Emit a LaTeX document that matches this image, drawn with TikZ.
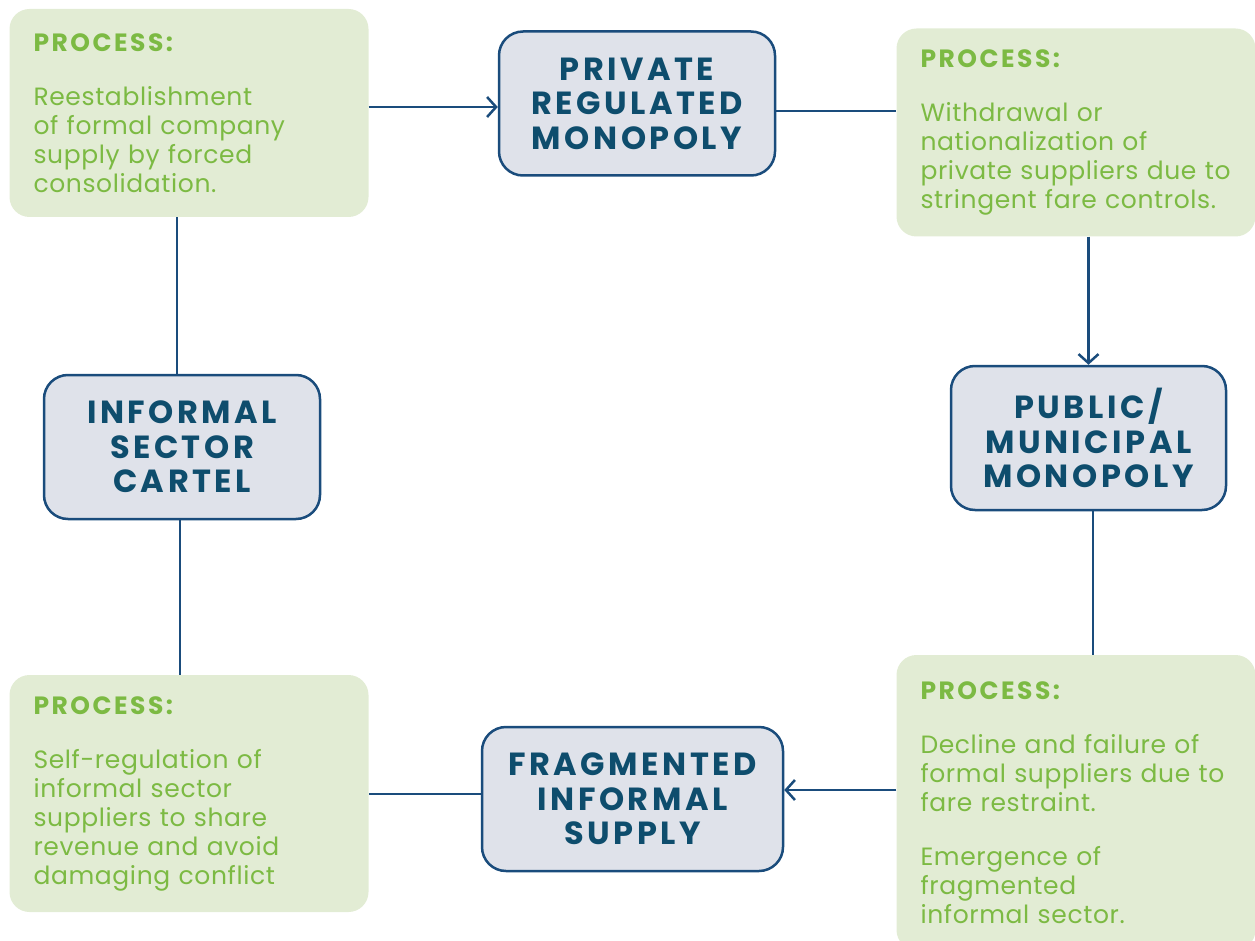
\documentclass[tikz,border=0pt]{standalone}
\usepackage{fontspec}
\setmainfont{Poppins}[LetterSpace=2.5]
\newfontfamily\headfont{Poppins}[LetterSpace=11]
\newfontfamily\procfont{Poppins}[LetterSpace=10]
\usetikzlibrary{arrows.meta}

\definecolor{lineblue}{HTML}{1A4C7C}
\definecolor{titleblue}{HTML}{0E4D6D}
\definecolor{boxgray}{HTML}{DFE2EA}
\definecolor{greenfill}{HTML}{E2ECD4}
\definecolor{greentext}{HTML}{7CBA43}

\newcommand{\proctitle}{{\procfont\bfseries PROCESS:}}

\begin{document}
\begin{tikzpicture}[x=1pt, y=-1pt,
    statebox/.style={draw=lineblue, line width=2.5pt, fill=boxgray, rounded corners=24pt,
        minimum width=276pt, minimum height=144pt, align=center, text=titleblue,
        font=\headfont\bfseries\fontsize{32}{34.5}\selectfont, inner sep=0pt},
    procbox/.style={fill=greenfill, rounded corners=20pt, minimum width=359pt,
        align=left, text=greentext, text width=311pt, inner xsep=24pt, inner ysep=0pt,
        font=\fontsize{25}{29}\selectfont},
    link/.style={draw=lineblue, line width=2.5pt},
    arr/.style={link, -{Straight Barb[length=9pt, width=20pt, line width=2.5pt]}}]
    \useasboundingbox (0,0) rectangle (1255,941);

    % stages of the cycle
    \node[statebox] (priv) at (637,103.5) {PRIVATE\\REGULATED\\MONOPOLY};
    \node[statebox, minimum width=275pt] (pub) at (1088.5,438) {PUBLIC/\\MUNICIPAL\\MONOPOLY};
    \node[statebox, minimum width=301pt] (frag) at (632.5,799) {FRAGMENTED\\INFORMAL\\SUPPLY};
    \node[statebox] (cartel) at (182,447) {INFORMAL\\SECTOR\\CARTEL};

    % processes between them
    \node[procbox, minimum height=208pt] (proc1) at (189,113)
        {\proctitle\\[25pt]Reestablishment\\of formal company\\supply by forced\\consolidation.};
    \node[procbox, minimum height=208pt, minimum width=358pt] (proc2) at (1076,132.5)
        {\proctitle\\[25pt]Withdrawal or\\nationalization of\\private suppliers due to\\stringent fare controls.};
    \node[procbox, minimum height=295pt, minimum width=358pt] (proc3) at (1076,802.5)
        {\proctitle\\[25pt]Decline and failure of\\formal suppliers due to\\fare restraint.\\[25pt]Emergence of\\fragmented\\informal sector.};
    \node[procbox, minimum height=237pt] (proc4) at (189,793.5)
        {\proctitle\\[25pt]Self-regulation of\\informal sector\\suppliers to share\\revenue and avoid\\damaging conflict};

    % connectors
    \coordinate (c1) at ([yshift=-3.5pt]priv.west);
    \coordinate (c2) at ([yshift=-7.5pt]priv.east);
    \coordinate (c3) at ([xshift=4.5pt]pub.south);
    \coordinate (c4) at ([yshift=9pt]frag.east);
    \coordinate (c5) at ([yshift=5pt]frag.west);
    \coordinate (c6) at ([xshift=-2pt]cartel.south);
    \coordinate (c7) at ([xshift=-5pt]cartel.north);
    \draw[arr] (proc1.east |- c1) -- (c1);
    \draw[link] (c2) -- (proc2.west |- c2);
    \draw[arr] (proc2.south -| pub.north) -- (pub.north);
    \draw[link] (c3) -- (proc3.north -| c3);
    \draw[arr] (proc3.west |- c4) -- (c4);
    \draw[link] (c5) -- (proc4.east |- c5);
    \draw[link] (c6) -- (proc4.north -| c6);
    \draw[link] (c7) -- (proc1.south -| c7);
\end{tikzpicture}
\end{document}
